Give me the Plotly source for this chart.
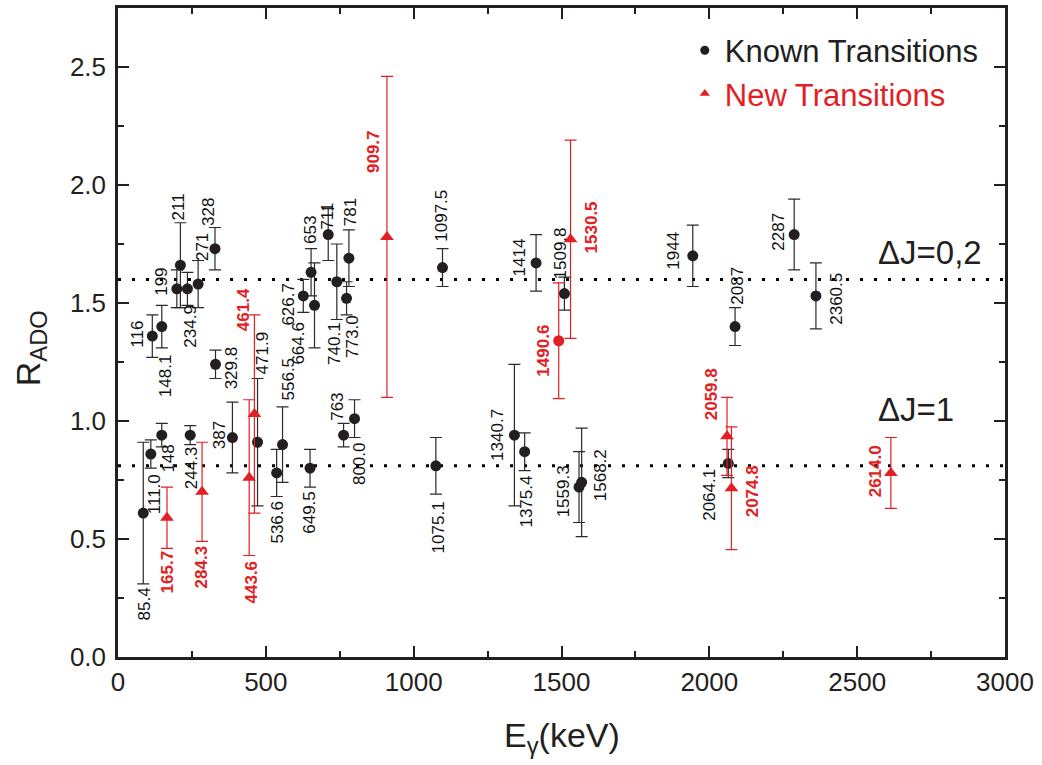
import plotly.graph_objects as go

# ---------------- data ----------------
known_E = [85.4, 111.0, 116, 148, 148.1, 199, 211, 234.9, 244.3, 271, 328, 329.8, 387,
           471.9, 536.6, 556.5, 626.7, 649.5, 653, 664.6, 711, 740.1, 763, 773.0, 781,
           800.0, 1075.1, 1097.5, 1340.7, 1375.4, 1414, 1509.8, 1559.3, 1568.2, 1944,
           2064.1, 2087, 2287, 2360.5]
known_R = [0.61, 0.86, 1.36, 0.94, 1.40, 1.56, 1.66, 1.56, 0.94, 1.58, 1.73, 1.24, 0.93,
           0.91, 0.78, 0.90, 1.53, 0.80, 1.63, 1.49, 1.79, 1.59, 0.94, 1.52, 1.69,
           1.01, 0.81, 1.65, 0.94, 0.87, 1.67, 1.54, 0.72, 0.74, 1.70,
           0.82, 1.40, 1.79, 1.53]
known_err = [0.30, 0.06, 0.09, 0.05, 0.09, 0.08, 0.18, 0.07, 0.04, 0.10, 0.09, 0.06, 0.15,
             0.27, 0.10, 0.16, 0.07, 0.08, 0.10, 0.18, 0.11, 0.16, 0.05, 0.07, 0.12,
             0.08, 0.12, 0.08, 0.30, 0.08, 0.12, 0.07, 0.15, 0.23, 0.13,
             0.06, 0.08, 0.15, 0.14]
known_labels = ["85.4", "111.0", "116", "148", "148.1", "199", "211", "234.9", "244.3", "271",
                "328", "329.8", "387", "471.9", "536.6", "556.5", "626.7", "649.5", "653",
                "664.6", "711", "740.1", "763", "773.0", "781", "800.0", "1075.1", "1097.5",
                "1340.7", "1375.4", "1414", "1509.8", "1559.3", "1568.2", "1944", "2064.1",
                "2087", "2287", "2360.5"]

new_E = [165.7, 284.3, 443.6, 461.4, 909.7, 1530.5, 2059.8, 2074.8, 2614.0]
new_R = [0.59, 0.70, 0.76, 1.03, 1.78, 1.77, 0.935, 0.715, 0.78]
new_err = [0.13, 0.21, 0.33, 0.42, 0.68, 0.42, 0.165, 0.26, 0.15]
new_labels = ["165.7", "284.3", "443.6", "461.4", "909.7", "1530.5", "2059.8", "2074.8", "2614.0"]

# new transition drawn with a circle marker
newc_E = [1490.6]
newc_R = [1.34]
newc_err = [0.245]
newc_labels = ["1490.6"]

deltaJ_levels = [1.6, 0.81]
deltaJ_texts = ["ΔJ=0,2", "ΔJ=1"]

x_ticks = [0, 500, 1000, 1500, 2000, 2500, 3000]
y_ticks = [0.0, 0.5, 1.0, 1.5, 2.0, 2.5]

# ---------------- label placement (data coords of text centres) ----------------
known_lab_x = [88, 122, 68, 172, 159, 149, 203, 247, 247, 284, 304, 382, 342,
               490, 538, 575, 578, 649, 653, 612, 710, 730, 744, 791, 785,
               817, 1083, 1096, 1281, 1381, 1361, 1495, 1507, 1630, 1879,
               2002, 2095, 2234, 2430]
known_lab_y = [0.223, 0.69, 1.366, 0.84, 1.19, 1.59, 1.905, 1.40, 0.80, 1.737, 1.885, 1.227, 0.94,
               1.29, 0.57, 1.176, 1.497, 0.615, 1.81, 1.332, 1.87, 1.33, 1.06, 1.36, 1.885,
               0.82, 0.55, 1.87, 0.94, 0.66, 1.695, 1.71, 0.70, 0.77, 1.72,
               0.687, 1.575, 1.80, 1.52]
new_lab_x = [167, 281, 450, 423, 866, 1603, 2007, 2146, 2563]
new_lab_y = [0.36, 0.38, 0.316, 1.47, 2.14, 1.82, 1.115, 0.70, 0.786]
newc_lab_x = [1439]
newc_lab_y = [1.30]

BLACK = "#231f20"
RED = "#e31e24"
FONT = "Liberation Sans, Arial, sans-serif"

fig = go.Figure()

fig.add_trace(go.Scatter(
    x=known_E, y=known_R, mode="markers", showlegend=False,
    marker=dict(symbol="circle", size=11, color=BLACK),
    error_y=dict(type="data", array=known_err, visible=True, color="#2a2a2a",
                 thickness=1.2, width=6),
))
fig.add_trace(go.Scatter(
    x=new_E, y=new_R, mode="markers", showlegend=False,
    marker=dict(symbol="triangle-up", size=12, color=RED),
    error_y=dict(type="data", array=new_err, visible=True, color=RED,
                 thickness=1.2, width=6),
))
fig.add_trace(go.Scatter(
    x=newc_E, y=newc_R, mode="markers", showlegend=False,
    marker=dict(symbol="circle", size=11, color=RED),
    error_y=dict(type="data", array=newc_err, visible=True, color=RED,
                 thickness=1.2, width=6),
))
# legend entries
fig.add_trace(go.Scatter(x=[None], y=[None], mode="markers", name="Known Transitions",
                         marker=dict(symbol="circle", size=9, color=BLACK)))
fig.add_trace(go.Scatter(x=[None], y=[None], mode="markers",
                         name="<span style='color:%s'>New Transitions</span>" % RED,
                         marker=dict(symbol="triangle-up", size=9, color=RED)))

annotations = []
for t, lx, ly in zip(known_labels, known_lab_x, known_lab_y):
    annotations.append(dict(x=lx, y=ly, xref="x", yref="y", text=t, textangle=-90,
                            showarrow=False, xanchor="center", yanchor="middle",
                            font=dict(size=17, color="#111111", family=FONT)))
for t, lx, ly in zip(new_labels + newc_labels, new_lab_x + newc_lab_x, new_lab_y + newc_lab_y):
    annotations.append(dict(x=lx, y=ly, xref="x", yref="y", text="<b>%s</b>" % t, textangle=-90,
                            showarrow=False, xanchor="center", yanchor="middle",
                            font=dict(size=17, color=RED, family=FONT)))

# ΔJ text
annotations.append(dict(x=2746, y=1.716, xref="x", yref="y", text=deltaJ_texts[0],
                        showarrow=False, xanchor="center", yanchor="middle",
                        font=dict(size=33, color=BLACK, family=FONT)))
annotations.append(dict(x=2699, y=1.05, xref="x", yref="y", text=deltaJ_texts[1],
                        showarrow=False, xanchor="center", yanchor="middle",
                        font=dict(size=33, color=BLACK, family=FONT)))
# axis titles
annotations.append(dict(x=0.5, y=-0.124, xref="paper", yref="paper",
                        text="E<sub>γ</sub>(keV)", showarrow=False,
                        xanchor="center", yanchor="middle",
                        font=dict(size=34, color=BLACK, family=FONT)))
annotations.append(dict(x=-0.099, y=0.476, xref="paper", yref="paper",
                        text="R<sub>ADO</sub>", textangle=-90, showarrow=False,
                        xanchor="center", yanchor="middle",
                        font=dict(size=34, color=BLACK, family=FONT)))

shapes = []
for lv in deltaJ_levels:
    shapes.append(dict(type="line", xref="paper", x0=0, x1=1, yref="y", y0=lv, y1=lv,
                       line=dict(color="black", width=3, dash="3px,11px"), layer="below"))

axis_common = dict(showline=True, linewidth=2.5, linecolor=BLACK, mirror="allticks",
                   ticks="inside", ticklen=11, tickwidth=2, tickcolor=BLACK,
                   showgrid=False, zeroline=False,
                   tickfont=dict(size=26, color=BLACK, family=FONT))

fig.update_layout(
    width=1042, height=765,
    margin=dict(l=118, r=37, t=5, b=108),
    paper_bgcolor="white", plot_bgcolor="white",
    font=dict(family=FONT, color=BLACK),
    xaxis=dict(range=[0, 3000], tickvals=x_ticks,
               minor=dict(dtick=250, ticks="inside", ticklen=6, tickwidth=2, tickcolor=BLACK),
               **axis_common),
    yaxis=dict(range=[0, 2.75], tickvals=y_ticks, tickformat=".1f", ticklabelstandoff=4,
               minor=dict(dtick=0.25, ticks="inside", ticklen=6, tickwidth=2, tickcolor=BLACK),
               **axis_common),
    legend=dict(x=0.639, y=0.976, xanchor="left", yanchor="top",
                bgcolor="rgba(0,0,0,0)", font=dict(size=31, color=BLACK, family=FONT),
                tracegroupgap=0),
    annotations=annotations,
    shapes=shapes,
)

fig.write_html("out.html", config={"displayModeBar": False},
               post_script="document.body.style.margin='0';")
